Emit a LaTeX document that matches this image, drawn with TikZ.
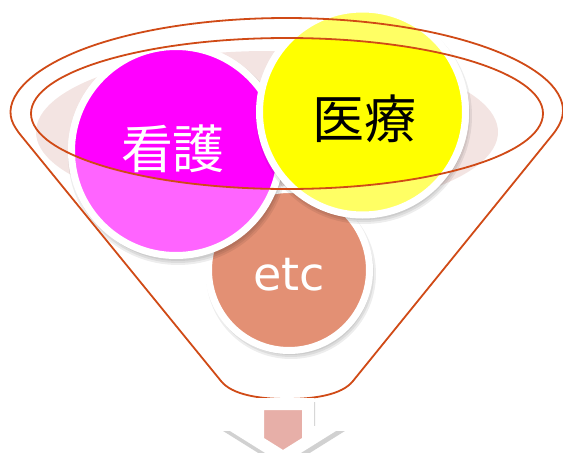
\documentclass[tikz,border=0pt]{standalone}
\usepackage{fontspec}
\newfontfamily\cjk{Noto Sans CJK JP}
\newfontfamily\etcfont{DejaVu Sans}
\definecolor{funnel}{RGB}{208,74,22}
\definecolor{mag}{RGB}{255,0,255}
\definecolor{magL}{RGB}{255,100,255}
\definecolor{yel}{RGB}{255,255,0}
\definecolor{yelL}{RGB}{255,255,100}
\definecolor{salmon}{RGB}{227,144,116}
\definecolor{bgpink}{RGB}{243,228,226}
\definecolor{arrowpink}{RGB}{231,175,168}
\begin{document}
\begin{tikzpicture}[x=1pt,y=-1pt,
  ball/.style={circle, inner sep=0pt, minimum size=#1, draw=white, line width=7pt},
  shade/.style={fill=black, opacity=0.07},
  outline/.style={draw=funnel, line width=1.8pt, line join=round},
  kanji/.style={font=\cjk\fontsize{52}{60}\selectfont, inner sep=0pt}]
\useasboundingbox (0,0) rectangle (563,453);
% background soft ellipse
\fill[bgpink] (267,132) ellipse[x radius=231, y radius=81];
% etc circle
\foreach \r in {81,83,85} \fill[shade] (291,274) circle[radius=\r];
\node[ball=161pt, fill=salmon] (etc) at (289,270) {};
% nursing circle (light part)
\foreach \r in {106,108,110} \fill[shade] (178,155) circle[radius=\r];
\node[ball=209pt, fill=magL] (kango) at (176,151) {};
% medicine circle (light part)
\foreach \r in {104,106,108} \fill[shade] (364,116) circle[radius=\r];
\node[ball=206pt, fill=yelL] (iryo) at (362.5,112) {};
% inside the funnel opening: full colours
\begin{scope}
  \clip (287,113.5) ellipse[x radius=256, y radius=75.5];
  \node[ball=209pt, fill=mag] (kangoIn) at (176,151) {};
  \begin{scope}
    \clip (176,151) circle[radius=108];
    \foreach \r in {104,106,108} \fill[shade] (364,116) circle[radius=\r];
  \end{scope}
  \node[ball=206pt, fill=yel] (iryoIn) at (362.5,112) {};
\end{scope}
% labels
\node[kanji, text=white] (kangoT) at (173,149) {看護};
\node[kanji, text=black] (iryoT) at (364,119) {医療};
\node[font=\etcfont\fontsize{46}{54}\selectfont, text=white, inner sep=0pt] (etcT) at (289,275) {etc};
% funnel
\draw[outline] (287,113.5) ellipse[x radius=256, y radius=75.5];
\draw[outline] (221,381) .. controls (232,395) and (260,399) .. (287,399)
  .. controls (314,399) and (342,395) .. (353,381)
  [rounded corners=6pt] -- (556.8,129.5)
  arc[start angle=10, end angle=-190, x radius=274.5, y radius=95]
  -- (221,381);
% arrow
\fill[black, opacity=0.18, line width=12pt, draw=black, miter limit=10, line join=miter]
  (259,408) -- (309,408) -- (309,437) -- (324,437) -- (284,462) -- (244,437) -- (259,437) -- cycle;
\filldraw[fill=arrowpink, draw=white, line width=12pt, miter limit=10, line join=miter]
  (258,404) -- (308,404) -- (308,432) -- (323,432) -- (283,457) -- (243,432) -- (258,432) -- cycle;
\end{tikzpicture}
\end{document}
